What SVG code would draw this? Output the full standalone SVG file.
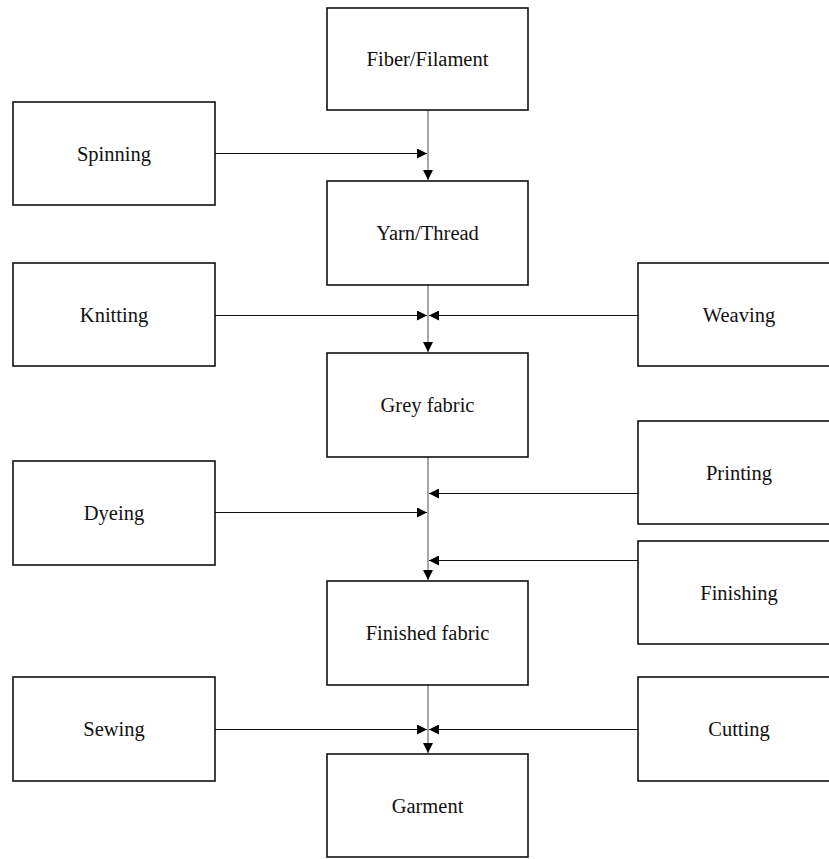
<svg xmlns="http://www.w3.org/2000/svg" width="829" height="859" viewBox="0 0 829 859">
  <style>
    .box rect { fill: #ffffff; stroke: #111111; stroke-width: 1.6; }
    .box text { font-family: "Liberation Serif", "Times New Roman", serif; font-size: 20.5px; fill: #111111; text-anchor: middle; }
    .trunk { stroke: #777777; stroke-width: 1.3; fill: none; }
    .feed { stroke: #111111; stroke-width: 1; fill: none; }
  </style>
  <defs>
    <marker id="arrow" markerUnits="userSpaceOnUse" markerWidth="11" markerHeight="10" refX="10" refY="5" orient="auto">
      <path d="M0,0 L10,5 L0,10 Z" fill="#000000"/>
    </marker>
  </defs>
  <rect width="829" height="859" fill="#ffffff"/>

  <!-- connectors -->
  <g id="connectors">
    <!-- main process line -->
    <line class="trunk" x1="428" y1="110" x2="428" y2="180" marker-end="url(#arrow)"/>
    <line class="trunk" x1="428" y1="285" x2="428" y2="352" marker-end="url(#arrow)"/>
    <line class="trunk" x1="428" y1="457" x2="428" y2="580" marker-end="url(#arrow)"/>
    <line class="trunk" x1="428" y1="685" x2="428" y2="753" marker-end="url(#arrow)"/>
    <!-- operations feeding into the line -->
    <line class="feed" x1="215" y1="153.5" x2="427" y2="153.5" marker-end="url(#arrow)"/>
    <line class="feed" x1="215" y1="315.5" x2="427" y2="315.5" marker-end="url(#arrow)"/>
    <line class="feed" x1="638" y1="315.5" x2="429" y2="315.5" marker-end="url(#arrow)"/>
    <line class="feed" x1="638" y1="493.5" x2="429" y2="493.5" marker-end="url(#arrow)"/>
    <line class="feed" x1="215" y1="512.5" x2="427" y2="512.5" marker-end="url(#arrow)"/>
    <line class="feed" x1="638" y1="560.5" x2="429" y2="560.5" marker-end="url(#arrow)"/>
    <line class="feed" x1="215" y1="729.5" x2="427" y2="729.5" marker-end="url(#arrow)"/>
    <line class="feed" x1="638" y1="729.5" x2="429" y2="729.5" marker-end="url(#arrow)"/>
  </g>

  <!-- product stages -->
  <g id="fiber" class="box"><rect x="327" y="8" width="201" height="102"/><text x="427.5" y="66">Fiber/Filament</text></g>
  <g id="yarn" class="box"><rect x="327" y="181" width="201" height="104"/><text x="427.5" y="240">Yarn/Thread</text></g>
  <g id="grey-fabric" class="box"><rect x="327" y="353" width="201" height="104"/><text x="427.5" y="412">Grey fabric</text></g>
  <g id="finished-fabric" class="box"><rect x="327" y="581" width="201" height="104"/><text x="427.5" y="640">Finished fabric</text></g>
  <g id="garment" class="box"><rect x="327" y="754" width="201" height="103"/><text x="427.5" y="813">Garment</text></g>

  <!-- operations, left -->
  <g id="spinning" class="box"><rect x="13" y="102" width="202" height="103"/><text x="114" y="161">Spinning</text></g>
  <g id="knitting" class="box"><rect x="13" y="263" width="202" height="103"/><text x="114" y="322">Knitting</text></g>
  <g id="dyeing" class="box"><rect x="13" y="461" width="202" height="104"/><text x="114" y="520">Dyeing</text></g>
  <g id="sewing" class="box"><rect x="13" y="677" width="202" height="104"/><text x="114" y="736">Sewing</text></g>

  <!-- operations, right -->
  <g id="weaving" class="box"><rect x="638" y="263" width="204" height="103"/><text x="739" y="322">Weaving</text></g>
  <g id="printing" class="box"><rect x="638" y="421" width="204" height="103"/><text x="739" y="480">Printing</text></g>
  <g id="finishing" class="box"><rect x="638" y="541" width="204" height="103"/><text x="739" y="600">Finishing</text></g>
  <g id="cutting" class="box"><rect x="638" y="677" width="204" height="104"/><text x="739" y="736">Cutting</text></g>
</svg>
